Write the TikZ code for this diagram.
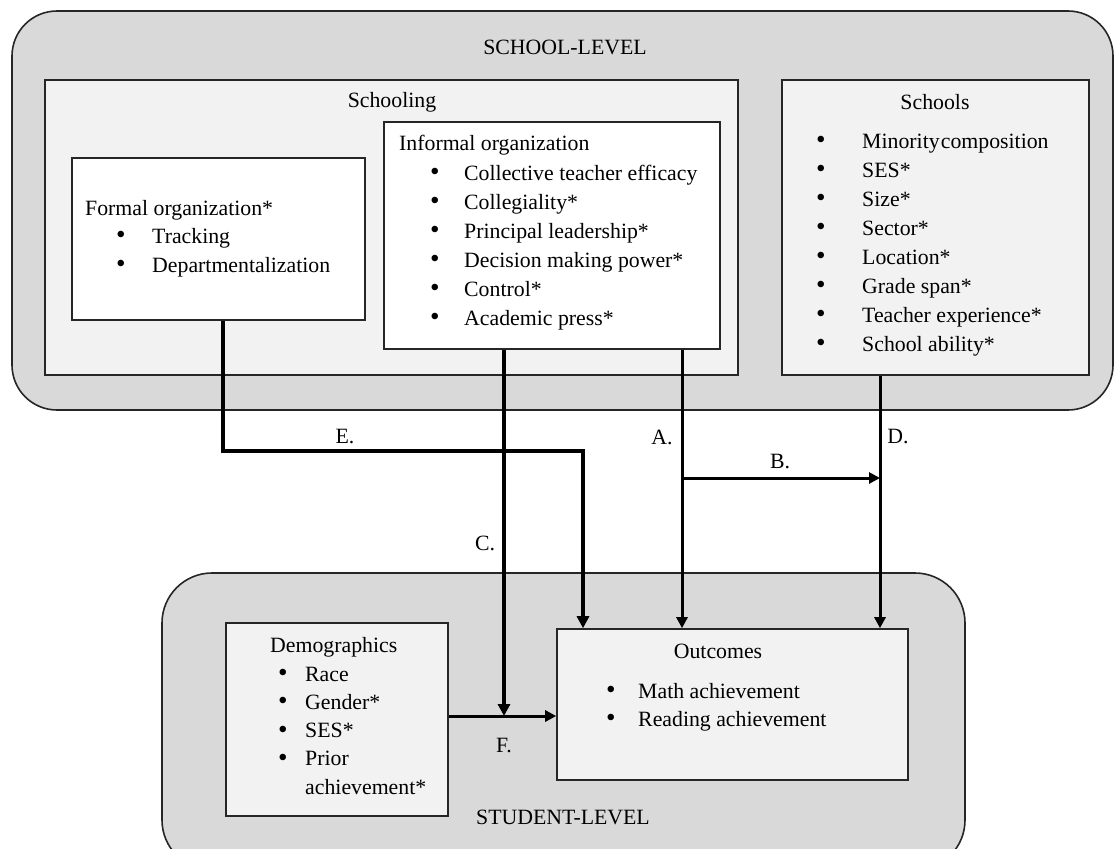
\documentclass[tikz,border=0pt]{standalone}
\usepackage{fontspec}
\setmainfont{Liberation Serif}
\usepackage{tikz}
\usetikzlibrary{arrows.meta}

\newcommand{\bl}[2]{\makebox[#1][l]{\raisebox{-0.5pt}{\scalebox{1.25}{\textbullet}}}#2}

\tikzset{
	levelbox/.style={draw=black!85, line width=1.6pt, fill=black!15, inner sep=0},
	groupbox/.style={draw=black!85, line width=1.6pt, fill=black!5, inner sep=0},
	itembox/.style={draw=black!85, line width=1.6pt, fill=white, inner sep=0},
	txt/.style={inner sep=0, anchor=base west},
	flow/.style={line width=3pt, -{Triangle[length=11pt,width=11pt]}},
	thickflow/.style={line width=4.5pt, -{Triangle[length=12pt,width=12pt]}}
}

\begin{document}
\begin{tikzpicture}[x=1pt, y=-1pt, font=\fontsize{21.8}{29}\selectfont]

\useasboundingbox (0,0) rectangle (1115,848);
\clip (0,0) rectangle (1115,848);

% levels
\node[levelbox, rounded corners=45pt, minimum width=1101pt, minimum height=399pt] (school) at (562.5,210.5) {};
\node[levelbox, rounded corners=50pt, minimum width=803pt, minimum height=297pt] (student) at (563.5,721.5) {};

\node[groupbox, minimum width=693pt, minimum height=295pt] (schooling) at (391.5,227.5) {};
\node[groupbox, minimum width=307pt, minimum height=295pt] (schools) at (935.5,227.5) {};
\node[itembox, minimum width=293pt, minimum height=162pt] (formal) at (218.5,239) {};
\node[itembox, minimum width=336pt, minimum height=227pt] (informal) at (552,235.5) {};
\node[groupbox, minimum width=222pt, minimum height=193pt] (demog) at (337,719.5) {};
\node[groupbox, minimum width=351pt, minimum height=151pt] (outcomes) at (732.5,704.5) {};

% titles
\node (schooltitle) at (565,47) {SCHOOL-LEVEL};
\node (studenttitle) at (563,817) {STUDENT-LEVEL};
\node (schoolingtitle) at (392,102) {Schooling};
\node (schoolstitle) at (935,102) {Schools};
\node (outcomestitle) at (718,651) {Outcomes};
\node[txt] (formaltitle) at (85,215) {Formal organization*};
\node[txt] (informaltitle) at (399,150) {Informal organization};
\node[txt] (demogtitle) at (270,652) {Demographics};

% lists
\node[txt] (formallist) at (116,243) {\begin{tabular}[t]{@{}l@{}}
	\bl{36pt}{Tracking}\\
	\bl{36pt}{Departmentalization}
\end{tabular}};
\node[txt] (informallist) at (430,180) {\begin{tabular}[t]{@{}l@{}}
	\bl{34pt}{Collective teacher efficacy}\\
	\bl{34pt}{Collegiality*}\\
	\bl{34pt}{Principal leadership*}\\
	\bl{34pt}{Decision making power*}\\
	\bl{34pt}{Control*}\\
	\bl{34pt}{Academic press*}
\end{tabular}};
\node[txt] (schoolslist) at (816,148) {\begin{tabular}[t]{@{}l@{}}
	\bl{46pt}{Minority\hspace{0.05em}composition}\\
	\bl{46pt}{SES*}\\
	\bl{46pt}{Size*}\\
	\bl{46pt}{Sector*}\\
	\bl{46pt}{Location*}\\
	\bl{46pt}{Grade span*}\\
	\bl{46pt}{Teacher experience*}\\
	\bl{46pt}{School ability*}
\end{tabular}};
\node[txt] (demoglist) at (278,681) {\fontsize{21.8}{28.3}\selectfont\begin{tabular}[t]{@{}l@{}}
	\bl{27pt}{Race}\\
	\bl{27pt}{Gender*}\\
	\bl{27pt}{SES*}\\
	\bl{27pt}{Prior}\\
	\hspace{27pt}achievement*
\end{tabular}};
\node[txt] (outcomeslist) at (606,698) {\fontsize{21.8}{28}\selectfont\begin{tabular}[t]{@{}l@{}}
	\bl{32pt}{Math achievement}\\
	\bl{32pt}{Reading achievement}
\end{tabular}};

% paths
\coordinate (eturn) at (583,451);
\coordinate (aline) at ([xshift=130pt]informal.south);
\coordinate (cline) at ([xshift=-48pt]informal.south);
\coordinate (dline) at ([xshift=-55.5pt]schools.south);
\coordinate (bjoin) at (682,478);
\coordinate (fjoin) at (504,716);

\draw[thickflow] ([xshift=4.5pt]formal.south) |- (eturn) -- (eturn |- outcomes.north);
\draw[thickflow] (cline) -- (fjoin);
\draw[flow] (aline) -- (aline |- outcomes.north);
\draw[flow] (dline) -- (dline |- outcomes.north);
\draw[flow] (bjoin) -- (bjoin -| dline);
\draw[flow] (demog.east |- fjoin) -- (outcomes.west |- fjoin);

% labels
\node (elabel) at (345,437) {E.};
\node (alabel) at (662,437) {A.};
\node (blabel) at (780,462) {B.};
\node (dlabel) at (898,437) {D.};
\node (clabel) at (485,543) {C.};
\node (flabel) at (504,746) {F.};

\end{tikzpicture}
\end{document}
